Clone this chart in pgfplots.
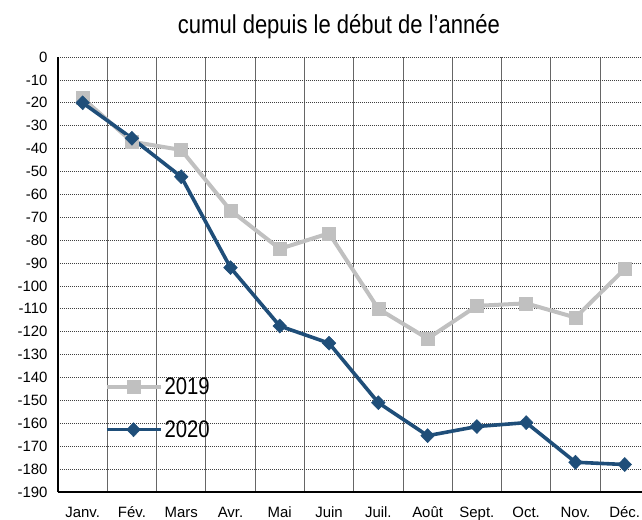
\documentclass[border=0pt]{standalone}
\usepackage{fontspec}
\setmainfont{Liberation Sans}
\newfontfamily\narrowfont{Liberation Sans}[FakeStretch=0.85]
\usepackage{pgfplots}
\pgfplotsset{compat=1.18}
\definecolor{c2019}{RGB}{192,192,192}
\definecolor{c2020}{RGB}{31,78,121}
\pgfplotstableread{
x y
0 -18
1 -37
2 -40.6
3 -67
4 -83.8
5 -77
6 -110
7 -123
8 -108.7
9 -107.6
10 -113.8
11 -92.6
}\dataA
\pgfplotstableread{
x y
0 -20
1 -35.5
2 -52.3
3 -92
4 -117.5
5 -125
6 -151
7 -165.4
8 -161.4
9 -159.7
10 -177
11 -178
}\dataB
\begin{document}
\begin{tikzpicture}
\begin{axis}[
  scale only axis,
  width=584bp, height=435bp,
  xmin=-0.5, xmax=11.35,
  ymin=-190, ymax=0,
  axis x line*=bottom, axis y line*=left,
  axis line style={-, line width=2.6bp, black},
  xtick={0,...,11},
  xticklabels={Janv.,Fév.,Mars,Avr.,Mai,Juin,Juil.,Août,Sept.,Oct.,Nov.,Déc.},
  minor xtick={0.5,1.5,...,10.5},
  xminorgrids=true,
  minor grid style={line width=0.8bp, black!60},
  ytick={0,-10,...,-190},
  ymajorgrids=true,
  major grid style={line width=0.7bp, black!75, dash pattern=on 1.2bp off 0.8bp},
  major tick length=0pt, minor tick length=0pt,
  tick label style={font=\fontsize{15}{17}\selectfont},
  /pgf/number format/assume math mode=true,
  yticklabel style={xshift=-7bp},
  xticklabel style={anchor=base, yshift=-25bp},
  title={cumul depuis le début de l’année},
  title style={at={(rel axis cs:0.481,1)}, anchor=base, yshift=18bp, font=\narrowfont\fontsize{26}{28}\selectfont},
  legend style={at={(axis cs:0.44,-139)}, anchor=north west, draw=none, fill=none,
    font=\narrowfont\fontsize{24}{26}\selectfont, row sep=21bp, inner sep=0pt},
  legend cell align=left,
  legend image code/.code={\draw[mark repeat=2,mark phase=2,#1] plot coordinates {(0bp,0bp)(27bp,0bp)(54bp,0bp)};},
  clip=false,
]
\addplot[c2019, line width=4bp, mark=square*, mark size=6.5bp, mark options={fill=c2019, draw=c2019, line width=0.5bp}] table[x=x,y=y] {\dataA};
\addlegendentry{2019}
\addplot[c2020, line width=3.6bp, mark=diamond*, mark size=7bp, mark options={fill=c2020, draw=c2020, line width=0.5bp, xscale=1.3}] table[x=x,y=y] {\dataB};
\addlegendentry{2020}
\end{axis}
\pgfresetboundingbox
\useasboundingbox (-58bp,-28bp) rectangle (584bp,492bp);
\end{tikzpicture}
\end{document}
